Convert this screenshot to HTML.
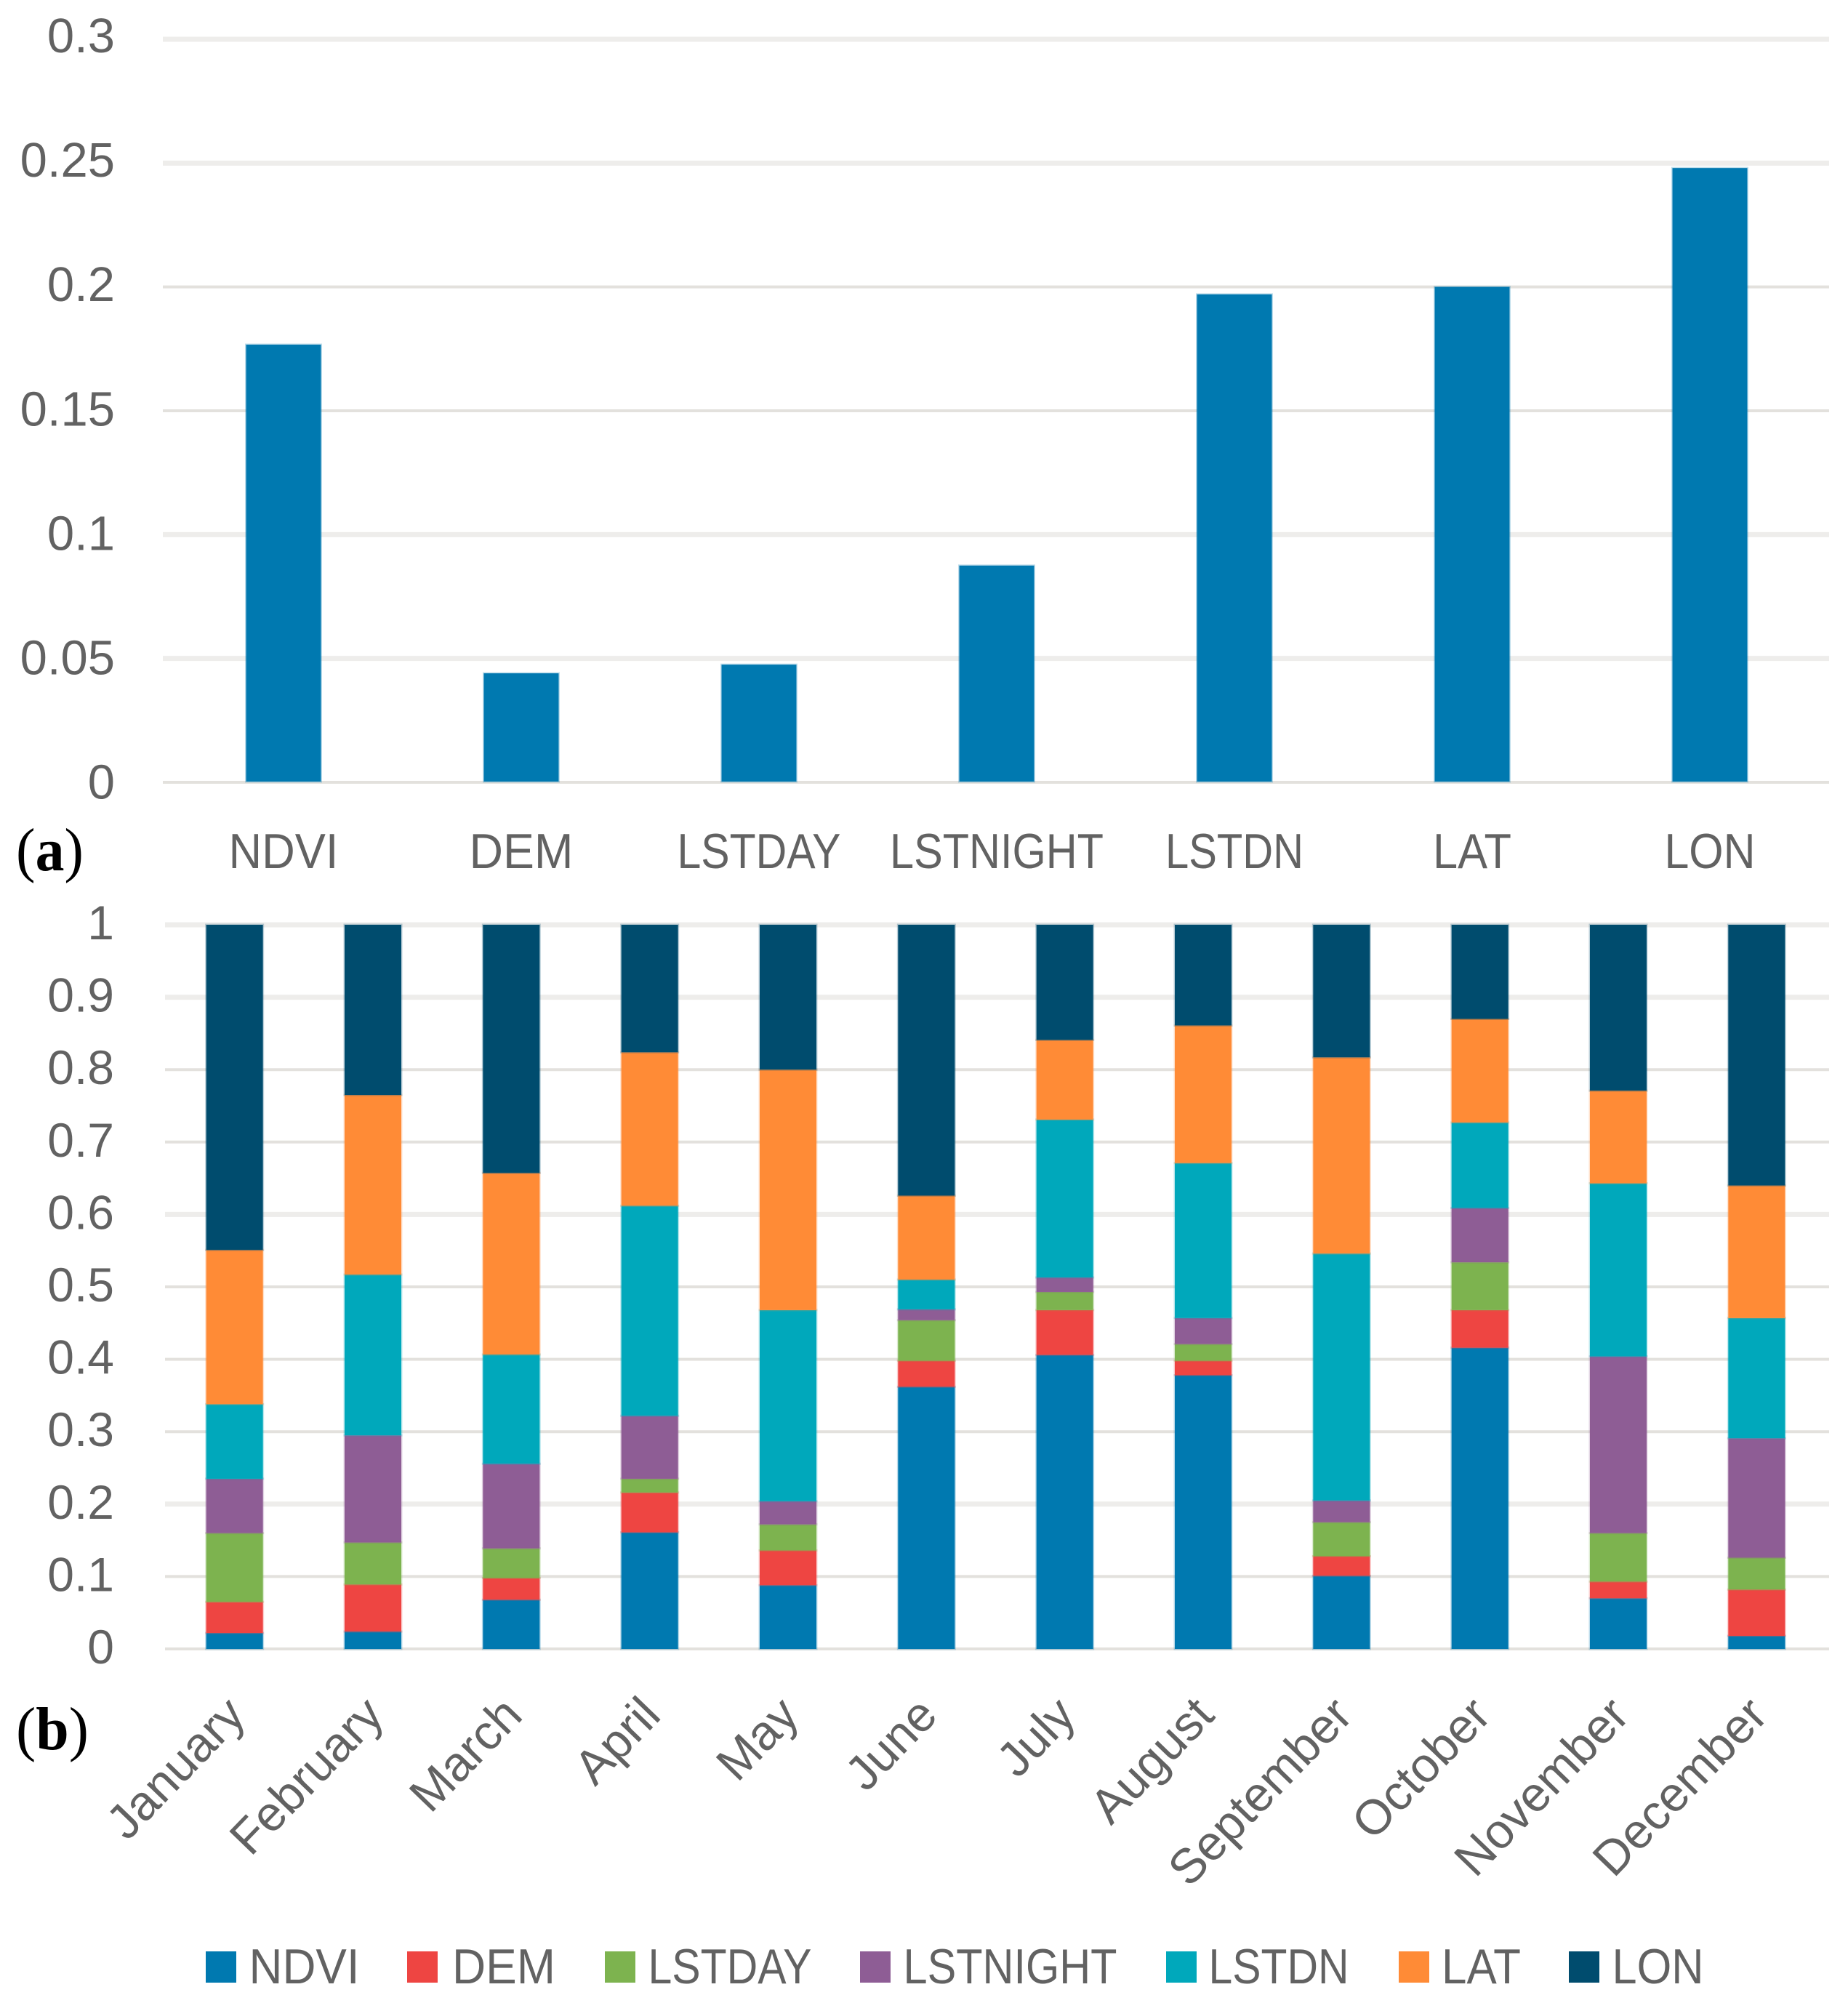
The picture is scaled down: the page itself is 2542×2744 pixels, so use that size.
<!DOCTYPE html>
<html lang="en">
<head>
<meta charset="utf-8">
<title>Variable importance charts</title>
<style>
html,body{margin:0;padding:0;background:#fff;}
svg{display:block;}
text{font-family:"Liberation Sans",sans-serif;fill:#626262;}
.panel{font-family:"Liberation Serif",serif;fill:#000;font-size:84px;}
</style>
</head>
<body>
<svg id="chart" width="2542" height="2744" viewBox="0 0 2542 2744" xmlns="http://www.w3.org/2000/svg">
  <g id="panel-a"></g>
  <g id="panel-b"></g>
  <text class="panel" x="22" y="1197" textLength="93" lengthAdjust="spacingAndGlyphs">(<tspan font-weight="bold">a</tspan>)</text>
  <text class="panel" x="22" y="2406" textLength="100" lengthAdjust="spacingAndGlyphs">(<tspan font-weight="bold">b</tspan>)</text>
  <g id="legend">
    <g><rect x="283" y="2684" width="42" height="43" fill="#0079B0"/><text x="342.5" y="2728" font-size="68" textLength="152" lengthAdjust="spacingAndGlyphs">NDVI</text></g>
    <g><rect x="560" y="2684" width="42" height="43" fill="#EE4542"/><text x="622" y="2728" font-size="68" textLength="142" lengthAdjust="spacingAndGlyphs">DEM</text></g>
    <g><rect x="832" y="2684" width="42" height="43" fill="#7DB34F"/><text x="891.5" y="2728" font-size="68" textLength="225" lengthAdjust="spacingAndGlyphs">LSTDAY</text></g>
    <g><rect x="1183" y="2684" width="42" height="43" fill="#8E5D95"/><text x="1242.5" y="2728" font-size="68" textLength="294" lengthAdjust="spacingAndGlyphs">LSTNIGHT</text></g>
    <g><rect x="1604" y="2684" width="42" height="43" fill="#00A8BB"/><text x="1662.5" y="2728" font-size="68" textLength="193" lengthAdjust="spacingAndGlyphs">LSTDN</text></g>
    <g><rect x="1924" y="2684" width="42" height="43" fill="#FF8B36"/><text x="1983" y="2728" font-size="68" textLength="109" lengthAdjust="spacingAndGlyphs">LAT</text></g>
    <g><rect x="2158" y="2684" width="42" height="43" fill="#004C6E"/><text x="2217.5" y="2728" font-size="68" textLength="126" lengthAdjust="spacingAndGlyphs">LON</text></g>
  </g>
</svg>
<script>
// ---- data: panel (a)
var variables = ['NDVI','DEM','LSTDAY','LSTNIGHT','LSTDN','LAT','LON'];
var importance = [0.1767,0.044,0.0475,0.0875,0.197,0.2,0.248];
var ticksA = ['0','0.05','0.1','0.15','0.2','0.25','0.3'];
// ---- data: panel (b)
var months = ['January','February','March','April','May','June','July','August','September','October','November','December'];
var ticksB = ['0','0.1','0.2','0.3','0.4','0.5','0.6','0.7','0.8','0.9','1'];
var ndvi     = [0.022,0.024,0.068,0.161,0.088,0.362,0.406,0.378,0.101,0.416,0.070,0.018];
var dem      = [0.043,0.065,0.030,0.055,0.048,0.036,0.062,0.020,0.027,0.052,0.023,0.064];
var lstday   = [0.095,0.058,0.041,0.019,0.036,0.056,0.025,0.023,0.047,0.066,0.067,0.044];
var lstnight = [0.075,0.148,0.117,0.087,0.032,0.015,0.020,0.036,0.030,0.075,0.244,0.165];
var lstdn    = [0.103,0.222,0.151,0.290,0.264,0.041,0.218,0.214,0.341,0.118,0.239,0.166];
var lat      = [0.213,0.248,0.251,0.212,0.332,0.116,0.110,0.190,0.271,0.143,0.128,0.183];
var lon      = [0.449,0.235,0.343,0.176,0.200,0.374,0.159,0.139,0.183,0.130,0.229,0.360];
var seriesNames = ['ndvi','dem','lstday','lstnight','lstdn','lat','lon'];
var seriesColors = ['#0079B0','#EE4542','#7DB34F','#8E5D95','#00A8BB','#FF8B36','#004C6E'];
var seriesValues = [ndvi,dem,lstday,lstnight,lstdn,lat,lon];

// ---- layout (not data)
var labelWidth = {NDVI:151, DEM:143, LSTDAY:225, LSTNIGHT:294, LSTDN:190, LAT:108, LON:125};
var thinA = ['0','0.15','0.2'];
var thinB = ['0','0.1','0.3','0.4','0.5','0.7','0.8'];
var NS = 'http://www.w3.org/2000/svg';
var GRID_L = 226, GRID_R = 2516;

function make(parent, tag, attrs, content) {
  var el = document.createElementNS(NS, tag);
  for (var k in attrs) el.setAttribute(k, attrs[k]);
  if (content !== undefined) el.textContent = content;
  parent.appendChild(el);
  return el;
}
function slug(s) { return s.toLowerCase().replace(/[^a-z0-9]+/g, '-'); }
function gridStyle(t, thin) {
  return thin.indexOf(t) >= 0 ? {stroke: '#E3E1DD', width: 4} : {stroke: '#EEEDEB', width: 7};
}

// axis functions
function yA(v) { return 1076 - (v / 0.3) * 1022; }
function xA(i) { return 227 + 2289 * (i + 0.5) / variables.length; }
function yB(v) { return 2268 - v * 996; }
function xB(i) { return 227.5 + 2284 * (i + 0.5) / months.length; }

// ---- panel (a)
var gA = document.getElementById('panel-a');
ticksA.forEach(function (t) {
  var v = parseFloat(t), y = yA(v), s = gridStyle(t, thinA);
  var line = make(gA, 'line', {x1: GRID_L - 2, x2: GRID_R, y1: y, y2: y, stroke: s.stroke, 'stroke-width': s.width});
  
  
  var lab = make(gA, 'text', {x: 158, y: y + 22.5 - (v / 0.3) * 4.5, 'text-anchor': 'end', 'font-size': 67}, t);
  
  
});
variables.forEach(function (name, i) {
  var w = 103, top = yA(importance[i]);
  var bar = make(gA, 'rect', {x: xA(i) - w / 2 - 0.5, y: top, width: w, height: yA(0) - top - 1, fill: '#0079B0', stroke: '#0079B0', 'stroke-opacity': 0.25, 'stroke-width': 3});
  
  
  var lab = make(gA, 'text', {x: xA(i) - 0.5, y: 1194, 'text-anchor': 'middle', 'font-size': 68, textLength: labelWidth[name], lengthAdjust: 'spacingAndGlyphs'}, name);
  
  
});

// ---- panel (b)
var gB = document.getElementById('panel-b');
ticksB.forEach(function (t) {
  var y = yB(parseFloat(t)), s = gridStyle(t, thinB);
  var line = make(gB, 'line', {x1: GRID_L + 1, x2: GRID_R, y1: y, y2: y, stroke: s.stroke, 'stroke-width': s.width});
  
  
  var lab = make(gB, 'text', {x: 157, y: y + 20, 'text-anchor': 'end', 'font-size': 66}, t);
  
  
});
months.forEach(function (m, i) {
  var w = 78, base = 0;
  var total = seriesValues.reduce(function (s, arr) { return s + arr[i]; }, 0);
  seriesValues.forEach(function (arr, j) {
    var v = arr[i] / total;
    var y1 = yB(base), y2 = yB(base + v);
    var seg = make(gB, 'rect', {x: xB(i) - w / 2, y: y2, width: w, height: Math.max(0, y1 - y2), fill: seriesColors[j], stroke: seriesColors[j], 'stroke-opacity': 0.25, 'stroke-width': 3});
    
    
    base += v;
  });
  var x = xB(i) + 18, y = 2362;
  var lab = make(gB, 'text', {x: x, y: y, 'text-anchor': 'end', 'font-size': 67, transform: 'rotate(-46 ' + x + ' ' + y + ')'}, m);
  
  
});
</script>
</body>
</html>
